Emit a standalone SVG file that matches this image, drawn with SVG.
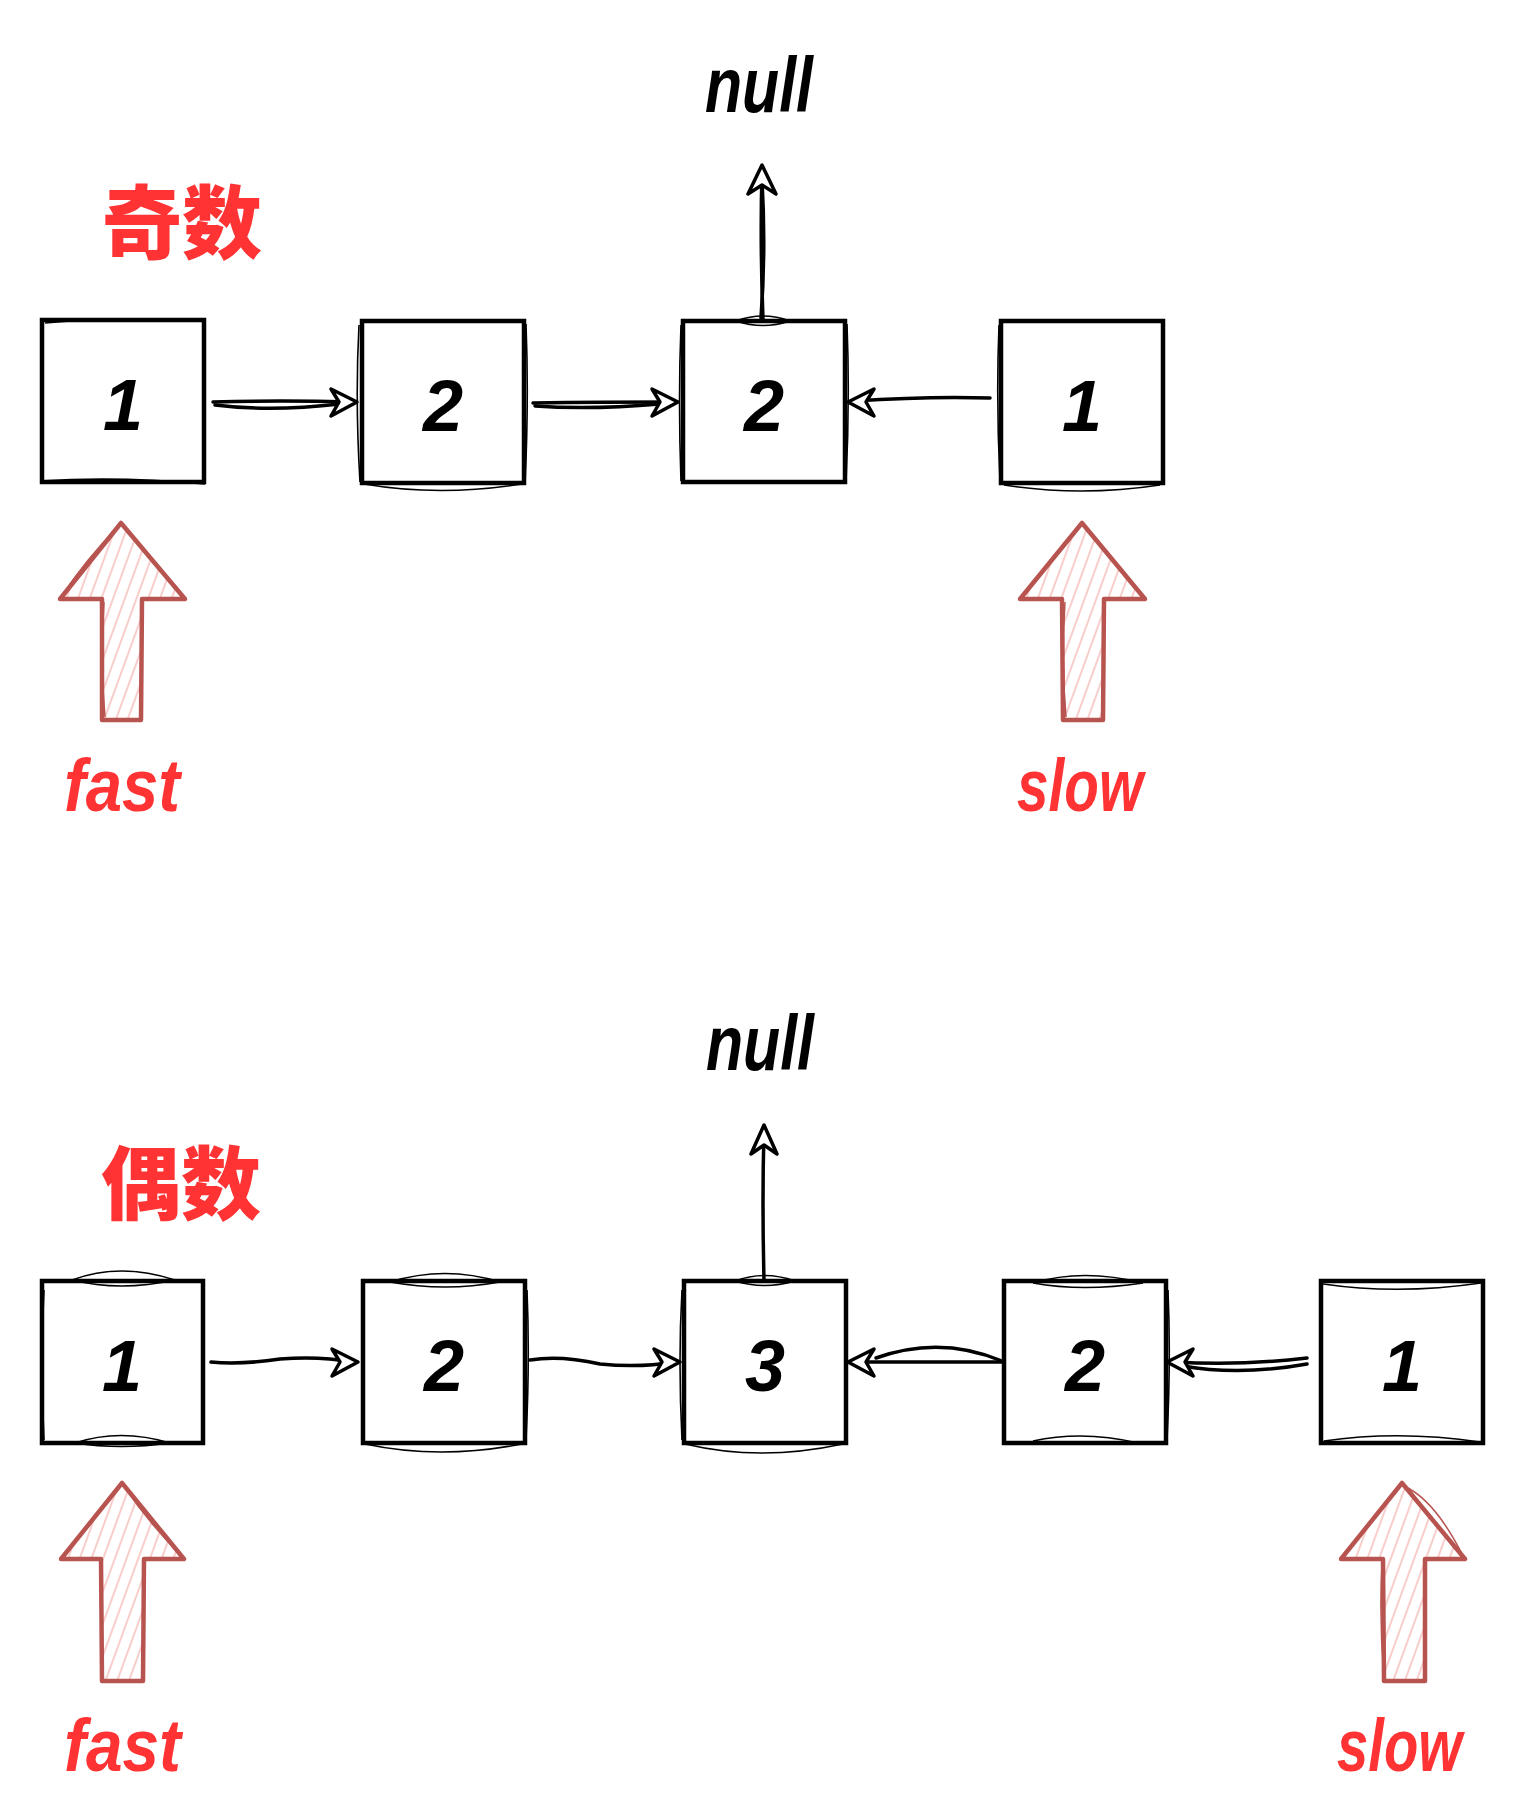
<svg xmlns="http://www.w3.org/2000/svg" width="1524" height="1804" viewBox="0 0 1524 1804">
  <defs>
    <style>
      .box rect.a { fill: #ffffff; stroke: #000000; stroke-width: 4.5; }
      .box path.b { fill: none; stroke: #000000; stroke-width: 1.6; }
      .num { font-family: "Liberation Sans", "DejaVu Sans", sans-serif; font-weight: bold; font-style: italic; font-size: 72px; fill: #000000; text-anchor: middle; }
      .null { font-family: "Liberation Sans", "DejaVu Sans", sans-serif; font-weight: bold; font-style: italic; font-size: 78px; fill: #000000; }
      .red { font-family: "Liberation Sans", "DejaVu Sans", sans-serif; font-weight: bold; font-style: italic; font-size: 74px; fill: #ff3333; }
      .cjk { font-family: "Noto Sans CJK SC", "Noto Sans CJK JP", sans-serif; font-weight: 900; font-size: 80px; fill: #ff3333; }
      .conn path.line { fill: none; stroke: #000000; stroke-width: 3.5; stroke-linecap: round; }
      .conn path.head { fill: #ffffff; stroke: #000000; stroke-width: 3.5; stroke-linejoin: round; }
      .ptr path.shape { fill: url(#hatch); stroke: #b85450; stroke-width: 4.5; stroke-linejoin: round; }
      .ptr path.shape2 { fill: none; stroke: #b85450; stroke-width: 1.5; }
    </style>
    <pattern id="hatch" patternUnits="userSpaceOnUse" width="11" height="11" patternTransform="rotate(20)">
      <line x1="3" y1="0" x2="3" y2="11" stroke="#f8cecc" stroke-width="2"/>
    </pattern>
  </defs>

  <!-- ===== Top section: 奇数 ===== -->
  <text id="label-odd" class="cjk" x="102" y="252">奇数</text>
  <text id="null-top" class="null" x="705" y="112" textLength="108" lengthAdjust="spacingAndGlyphs">null</text>

  <g id="t-node1" class="box">
    <rect class="a" x="42" y="320" width="162" height="162"/>
    <path class="b" d="M45,323 Q120,316 206,321 M40,481 Q120,476 205,484"/>
    <text class="num" x="123" y="430">1</text>
  </g>
  <g id="t-node2" class="box">
    <rect class="a" x="362" y="321" width="162" height="162"/>
    <path class="b" d="M359,325 Q355,400 360,482 M526,324 Q529,400 525,484 M364,484 Q440,497 522,484"/>
    <text class="num" x="443" y="431">2</text>
  </g>
  <g id="t-node3" class="box">
    <rect class="a" x="683" y="321" width="162" height="161"/>
    <path class="b" d="M681,325 Q678,400 681,481 M736,321 Q763,311 790,321 Q763,330 736,321 M847,324 Q850,400 846,482"/>
    <text class="num" x="764" y="431">2</text>
  </g>
  <g id="t-node4" class="box">
    <rect class="a" x="1001" y="321" width="162" height="162"/>
    <path class="b" d="M999,325 Q996,400 1000,481 M1004,485 Q1081,497 1160,485"/>
    <text class="num" x="1082" y="431">1</text>
  </g>

  <g id="t-connectors" class="conn">
    <path class="line" d="M213,402 Q280,400 352,402"/>
    <path class="line" d="M215,405 Q270,412 340,404" stroke-width="1.5"/>
    <path class="head" d="M357,402 L331,389 L339,402 L331,416 Z"/>
    <path class="line" d="M533,403 Q600,402 672,402"/>
    <path class="line" d="M535,406 Q590,410 660,404" stroke-width="1.5"/>
    <path class="head" d="M678,402 L652,389 L660,402 L652,416 Z"/>
    <path class="line" d="M990,398 Q930,396 853,401"/>
    <path class="head" d="M848,402 L874,389 L866,402 L874,416 Z"/>
    <path class="line" d="M763,320 Q760,240 762,172"/>
    <path class="line" d="M761,318 Q766,250 762,180" stroke-width="1.5"/>
    <path class="head" d="M762,165 L748,194 L762,185 L776,194 Z"/>
  </g>

  <g id="t-fast-pointer" class="ptr">
    <path class="shape" d="M121,523 L185,599 L142,599 L141,720 L102,720 L102,599 L60,599 Z"/>
    <path class="shape2" d="M119,526 Q85,560 62,596 M104,602 Q100,660 105,717"/>
  </g>
  <text id="t-fast" class="red" x="64" y="811" textLength="116" lengthAdjust="spacingAndGlyphs">fast</text>

  <g id="t-slow-pointer" class="ptr">
    <path class="shape" d="M1082,523 L1145,599 L1104,599 L1103,720 L1063,720 L1062,599 L1020,599 Z"/>
    <path class="shape2" d="M1084,526 Q1120,565 1142,596 M1065,602 Q1061,660 1066,717"/>
  </g>
  <text id="t-slow" class="red" x="1017" y="811" textLength="126" lengthAdjust="spacingAndGlyphs">slow</text>

  <!-- ===== Bottom section: 偶数 ===== -->
  <text id="label-even" class="cjk" x="101" y="1213">偶数</text>
  <text id="null-bottom" class="null" x="706" y="1070" textLength="108" lengthAdjust="spacingAndGlyphs">null</text>

  <g id="b-node1" class="box">
    <rect class="a" x="42" y="1281" width="161" height="162"/>
    <path class="b" d="M72,1280 Q120,1262 175,1280 Q120,1292 72,1280 M75,1443 Q120,1428 170,1443 Q120,1450 75,1443 M44,1290 Q40,1360 44,1440"/>
    <text class="num" x="122" y="1391">1</text>
  </g>
  <g id="b-node2" class="box">
    <rect class="a" x="363" y="1281" width="162" height="162"/>
    <path class="b" d="M390,1282 Q445,1265 500,1282 Q445,1292 390,1282 M365,1444 Q440,1460 522,1444 M527,1290 Q530,1360 526,1440"/>
    <text class="num" x="444" y="1391">2</text>
  </g>
  <g id="b-node3" class="box">
    <rect class="a" x="684" y="1281" width="162" height="162"/>
    <path class="b" d="M735,1281 Q764,1270 795,1281 Q764,1290 735,1281 M685,1444 Q760,1462 843,1444 M682,1290 Q678,1360 682,1440"/>
    <text class="num" x="765" y="1391">3</text>
  </g>
  <g id="b-node4" class="box">
    <rect class="a" x="1004" y="1281" width="162" height="162"/>
    <path class="b" d="M1033,1283 Q1083,1268 1143,1283 Q1083,1292 1033,1283 M1033,1441 Q1083,1430 1138,1443 M1168,1290 Q1171,1360 1167,1440"/>
    <text class="num" x="1085" y="1391">2</text>
  </g>
  <g id="b-node5" class="box">
    <rect class="a" x="1321" y="1281" width="162" height="162"/>
    <path class="b" d="M1323,1284 Q1399,1295 1481,1283 M1324,1441 Q1399,1430 1480,1442"/>
    <text class="num" x="1402" y="1391">1</text>
  </g>

  <g id="b-connectors" class="conn">
    <path class="line" d="M211,1362 Q240,1365 280,1359 Q320,1356 352,1362"/>
    <path class="head" d="M358,1362 L332,1349 L340,1362 L332,1376 Z"/>
    <path class="line" d="M530,1360 Q560,1355 600,1364 Q640,1368 674,1362"/>
    <path class="head" d="M680,1362 L654,1349 L662,1362 L654,1376 Z"/>
    <path class="line" d="M1002,1362 L854,1362"/>
    <path class="line" d="M1002,1361 Q940,1335 876,1358" stroke-width="2.5"/>
    <path class="head" d="M848,1362 L874,1349 L866,1362 L874,1376 Z"/>
    <path class="line" d="M1307,1358 Q1240,1366 1174,1362"/>
    <path class="line" d="M1307,1364 Q1240,1376 1183,1366" stroke-width="2"/>
    <path class="head" d="M1167,1362 L1193,1349 L1185,1362 L1193,1376 Z"/>
    <path class="line" d="M764,1280 Q762,1200 764,1132"/>
    <path class="head" d="M764,1125 L751,1154 L764,1145 L777,1154 Z"/>
  </g>

  <g id="b-fast-pointer" class="ptr">
    <path class="shape" d="M122,1483 L184,1559 L144,1559 L143,1681 L102,1681 L101,1559 L61,1559 Z"/>
    <path class="shape2" d="M124,1486 Q150,1525 182,1556"/>
  </g>
  <text id="b-fast" class="red" x="64" y="1771" textLength="117" lengthAdjust="spacingAndGlyphs">fast</text>

  <g id="b-slow-pointer" class="ptr">
    <path class="shape" d="M1402,1483 L1465,1559 L1425,1559 L1425,1681 L1384,1681 L1383,1559 L1341,1559 Z"/>
    <path class="shape2" d="M1404,1486 Q1435,1500 1463,1556 M1382,1562 Q1379,1620 1384,1678"/>
  </g>
  <text id="b-slow" class="red" x="1337" y="1771" textLength="125" lengthAdjust="spacingAndGlyphs">slow</text>
</svg>
